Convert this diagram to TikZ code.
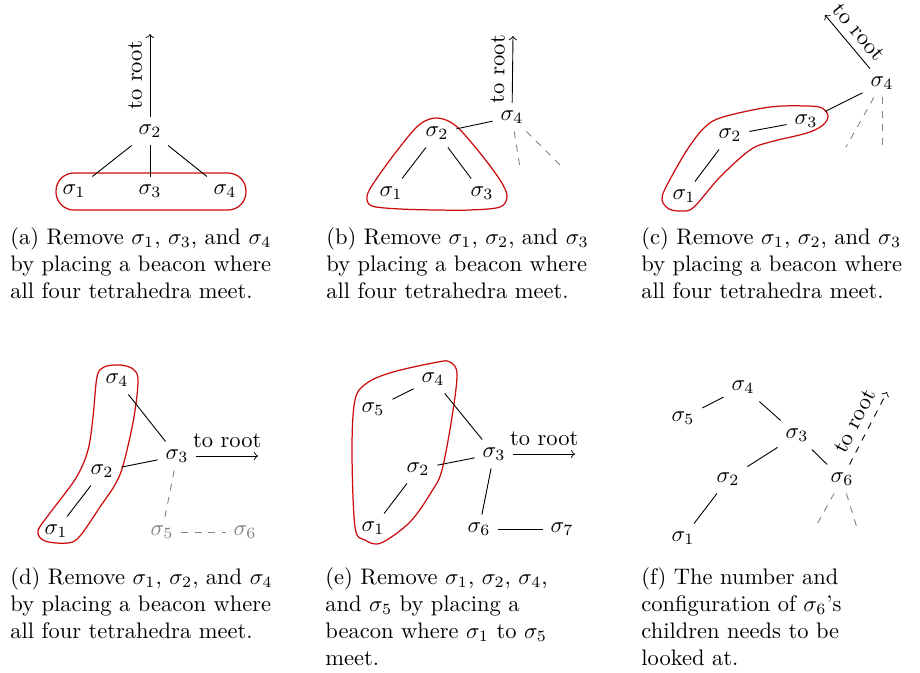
\documentclass[tikz,border=0pt]{standalone}
\definecolor{blobred}{RGB}{204,12,12}
\definecolor{ghostgray}{RGB}{130,130,130}
\tikzset{
  sig/.style={inner sep=0.3333em},
  tie/.style={draw=black, line width=0.4pt},
  ghost/.style={draw=ghostgray, dashed, line width=0.4pt},
  blob/.style={draw=blobred, line width=0.55pt},
  rootarrow/.style={draw=black, ->, line width=0.4pt},
  captext/.style={anchor=base west, inner sep=0pt},
  faded/.style={sig, text=ghostgray}
}
\newcommand{\capbox}[1]{\parbox[t]{170pt}{#1}}
\begin{document}
\begin{tikzpicture}[x=0.44444pt, y=-0.44444pt]
\useasboundingbox (0,0) rectangle (920,672);

% ---------------- (a) ----------------
\draw[blob, rounded corners=8pt] (56,173) rectangle (246,210);
\node[sig] (a2) at (150,131) {$\sigma_2$};
\node[sig] (a1) at (74,191) {$\sigma_1$};
\node[sig] (a3) at (150,191) {$\sigma_3$};
\node[sig] (a4) at (225,191) {$\sigma_4$};
\coordinate (aroot) at (150,34);
\draw[tie] (a2) -- (a1);
\draw[tie] (a2) -- (a3);
\draw[tie] (a2) -- (a4);
\draw[rootarrow] (a2) -- (aroot) node[midway, above, sloped] {to root};
\node[captext] (capa) at (10,244) {\capbox{(a) Remove $\sigma_1$, $\sigma_3$, and $\sigma_4$\\by placing a beacon where\\all four tetrahedra meet.}};

% ---------------- (b) ----------------
\draw[blob] plot[smooth cycle, tension=0.55] coordinates {
  (437,118) (456,126) (480,153) (500,180) (507,196) (500,207) (470,210)
  (437,210) (400,209) (372,206) (367,197) (373,184) (396,152) (419,125)};
\node[sig] (b4) at (512,117) {$\sigma_4$};
\node[sig] (b2) at (437,133) {$\sigma_2$};
\node[sig] (b1) at (391,193) {$\sigma_1$};
\node[sig] (b3) at (482,193) {$\sigma_3$};
\coordinate (broot) at (513,36);
\coordinate (bd1) at (520,168);
\coordinate (bd2) at (563,168);
\draw[tie] (b2) -- (b1);
\draw[tie] (b2) -- (b3);
\draw[tie] (b2) -- (b4);
\draw[ghost] (b4) -- (bd1);
\draw[ghost] (b4) -- (bd2);
\draw[rootarrow] (b4) -- (broot) node[midway, above, sloped] {to root};
\node[captext] (capb) at (326,244) {\capbox{(b) Remove $\sigma_1$, $\sigma_2$, and $\sigma_3$\\by placing a beacon where\\all four tetrahedra meet.}};

% ---------------- (c) ----------------
\draw[blob] plot[smooth cycle, tension=0.55] coordinates {
  (682,211) (694,207) (720,177) (750,150) (770,142) (807,133) (823,125)
  (828,116) (822,108) (807,106) (770,107) (723,117) (705,127) (687,150)
  (666,187) (662,200) (669,209)};
\node[sig] (c4) at (882,83) {$\sigma_4$};
\node[sig] (c3) at (806,121) {$\sigma_3$};
\node[sig] (c2) at (730,135) {$\sigma_2$};
\node[sig] (c1) at (684,196) {$\sigma_1$};
\coordinate (croot) at (825,15);
\coordinate (cd1) at (846,147);
\coordinate (cd2) at (882,147);
\draw[tie] (c1) -- (c2);
\draw[tie] (c2) -- (c3);
\draw[tie] (c3) -- (c4);
\draw[ghost] (c4) -- (cd1);
\draw[ghost] (c4) -- (cd2);
\draw[rootarrow] (c4) -- (croot) node[midway, rotate=-50, anchor=south] {to root};
\node[captext] (capc) at (641,244) {\capbox{(c) Remove $\sigma_1$, $\sigma_2$, and $\sigma_3$\\by placing a beacon where\\all four tetrahedra meet.}};

% ---------------- (d) ----------------
\draw[blob] plot[smooth cycle, tension=0.55] coordinates {
  (120,365) (133,369) (138,380) (134,417) (124,462) (116,483) (100,507)
  (80,536) (68,543) (45,541) (38,531) (50,513) (76,478) (88,450)
  (93,417) (97,377) (104,367)};
\node[sig] (d4) at (117,380) {$\sigma_4$};
\node[sig] (d3) at (177,456) {$\sigma_3$};
\node[sig] (d2) at (102,471) {$\sigma_2$};
\node[sig] (d1) at (56,531) {$\sigma_1$};
\node[faded] (d5) at (162,532) {$\sigma_5$};
\node[faded] (d6) at (245,532) {$\sigma_6$};
\coordinate (droot) at (258,456);
\draw[tie] (d4) -- (d3);
\draw[tie] (d2) -- (d3);
\draw[tie] (d1) -- (d2);
\draw[ghost] (d3) -- (d5);
\draw[ghost] (d5) -- (d6);
\draw[rootarrow] (d3) -- (droot) node[midway, above] {to root};
\node[captext] (capd) at (10,584) {\capbox{(d) Remove $\sigma_1$, $\sigma_2$, and $\sigma_4$\\by placing a beacon where\\all four tetrahedra meet.}};

% ---------------- (e) ----------------
\draw[blob] plot[smooth cycle, tension=0.55] coordinates {
  (450,362) (457,374) (452,417) (442,470) (432,491) (410,522) (381,543)
  (365,540) (355,527) (352,450) (355,400) (367,383) (393,372) (438,362)};
\node[sig] (e4) at (433,379) {$\sigma_4$};
\node[sig] (e5) at (373,409) {$\sigma_5$};
\node[sig] (e2) at (418,469) {$\sigma_2$};
\node[sig] (e1) at (373,528) {$\sigma_1$};
\node[sig] (e3) at (494,454) {$\sigma_3$};
\node[sig] (e6) at (479,529) {$\sigma_6$};
\node[sig] (e7) at (562,529) {$\sigma_7$};
\coordinate (eroot) at (575,454);
\draw[tie] (e5) -- (e4);
\draw[tie] (e4) -- (e3);
\draw[tie] (e2) -- (e3);
\draw[tie] (e1) -- (e2);
\draw[tie] (e3) -- (e6);
\draw[tie] (e6) -- (e7);
\draw[rootarrow] (e3) -- (eroot) node[midway, above] {to root};
\node[captext] (cape) at (325,584) {\capbox{(e) Remove $\sigma_1$, $\sigma_2$, $\sigma_4$,\\and $\sigma_5$ by placing a\\beacon where $\sigma_1$ to $\sigma_5$\\meet.}};

% ---------------- (f) ----------------
\node[sig] (f4) at (743,387) {$\sigma_4$};
\node[sig] (f5) at (683,418) {$\sigma_5$};
\node[sig] (f3) at (797,435) {$\sigma_3$};
\node[sig] (f2) at (728,479) {$\sigma_2$};
\node[sig] (f6) at (842,479) {$\sigma_6$};
\node[sig] (f1) at (683,538) {$\sigma_1$};
\coordinate (froot) at (887,392);
\coordinate (fd1) at (815,528);
\coordinate (fd2) at (857,528);
\draw[tie] (f5) -- (f4);
\draw[tie] (f4) -- (f3);
\draw[tie] (f3) -- (f2);
\draw[tie] (f3) -- (f6);
\draw[tie] (f2) -- (f1);
\draw[ghost] (f6) -- (fd1);
\draw[ghost] (f6) -- (fd2);
\draw[rootarrow, dashed] (f6) -- (froot) node[midway, above, sloped] {to root};
\node[captext] (capf) at (641,584) {\capbox{(f) The number and\\configuration of $\sigma_6$'s\\children needs to be\\looked at.}};
\end{tikzpicture}
\end{document}
